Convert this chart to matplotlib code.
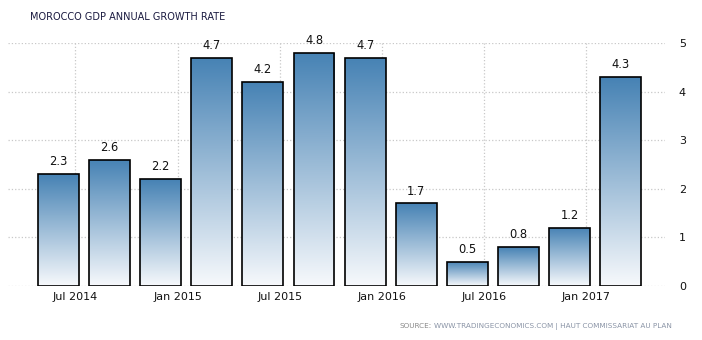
import numpy as np
import matplotlib
matplotlib.use('Agg')
import matplotlib.pyplot as plt
from matplotlib.colors import LinearSegmentedColormap

# quarterly GDP growth, Q2 2014 .. Q1 2017
quarters = ['Q2 2014', 'Q3 2014', 'Q4 2014', 'Q1 2015', 'Q2 2015', 'Q3 2015',
            'Q4 2015', 'Q1 2016', 'Q2 2016', 'Q3 2016', 'Q4 2016', 'Q1 2017']
growth = [2.3, 2.6, 2.2, 4.7, 4.2, 4.8, 4.7, 1.7, 0.5, 0.8, 1.2, 4.3]
tick_labels = ['Jul 2014', 'Jan 2015', 'Jul 2015', 'Jan 2016', 'Jul 2016', 'Jan 2017']
tick_bar_index = [0, 2, 4, 6, 8, 10]

plt.rcParams['font.family'] = 'DejaVu Sans'

fig = plt.figure(figsize=(7.02, 3.40), dpi=100)
ax = fig.add_axes([8/702, 54/340, (665-8)/702, (286-43)/340])

x = np.arange(len(growth))
width = 0.8
cmap = LinearSegmentedColormap.from_list('tegrad', ['#f7f9fc', '#4682b4'])
grad = np.linspace(0, 1, 256).reshape(-1, 1)

bars = ax.bar(x, growth, width=width, facecolor='none', edgecolor='black',
              linewidth=1.2, zorder=3)
for b, v in zip(bars, growth):
    x0 = b.get_x()
    im = ax.imshow(grad, cmap=cmap, aspect='auto', origin='lower',
                   extent=(x0, x0 + width, 0, v), zorder=2)
    im.set_clip_path(b)
    ax.text(b.get_x() + width/2, v + 0.12, '%.1f' % v, ha='center', va='bottom',
            fontsize=8.3, color='#111111', zorder=4)

ax.set_xlim(-0.99, len(growth) - 1 + 0.87)
ax.set_ylim(0, 5)

ax.set_xticks([i + 0.33 for i in tick_bar_index])
ax.set_xticklabels(tick_labels)
ax.set_yticks(range(0, 6))
ax.yaxis.tick_right()
ax.tick_params(axis='both', length=0, labelsize=8, colors='#111111')
ax.tick_params(axis='y', pad=10)
ax.tick_params(axis='x', pad=4)

ax.grid(True, color='#c8c8c8', linestyle=':', linewidth=0.9, zorder=0)
for s in ax.spines.values():
    s.set_visible(False)

fig.text(30/702, 1 - 17/340, 'MOROCCO GDP ANNUAL GROWTH RATE', fontsize=7,
         color='#1a1a40', va='center', ha='left')

# source line: right part first, then "SOURCE:" placed to its left
t = fig.text(672/702, 1 - 326/340,
             'WWW.TRADINGECONOMICS.COM | HAUT COMMISSARIAT AU PLAN',
             fontsize=5.2, color='#8a94a6', va='center', ha='right')
fig.canvas.draw()
bb = t.get_window_extent()
fig.text((bb.x0 - 2) / 702, 1 - 326/340, 'SOURCE:', fontsize=5.2, color='#888888',
         va='center', ha='right')

fig.savefig('out.png', dpi=100)
